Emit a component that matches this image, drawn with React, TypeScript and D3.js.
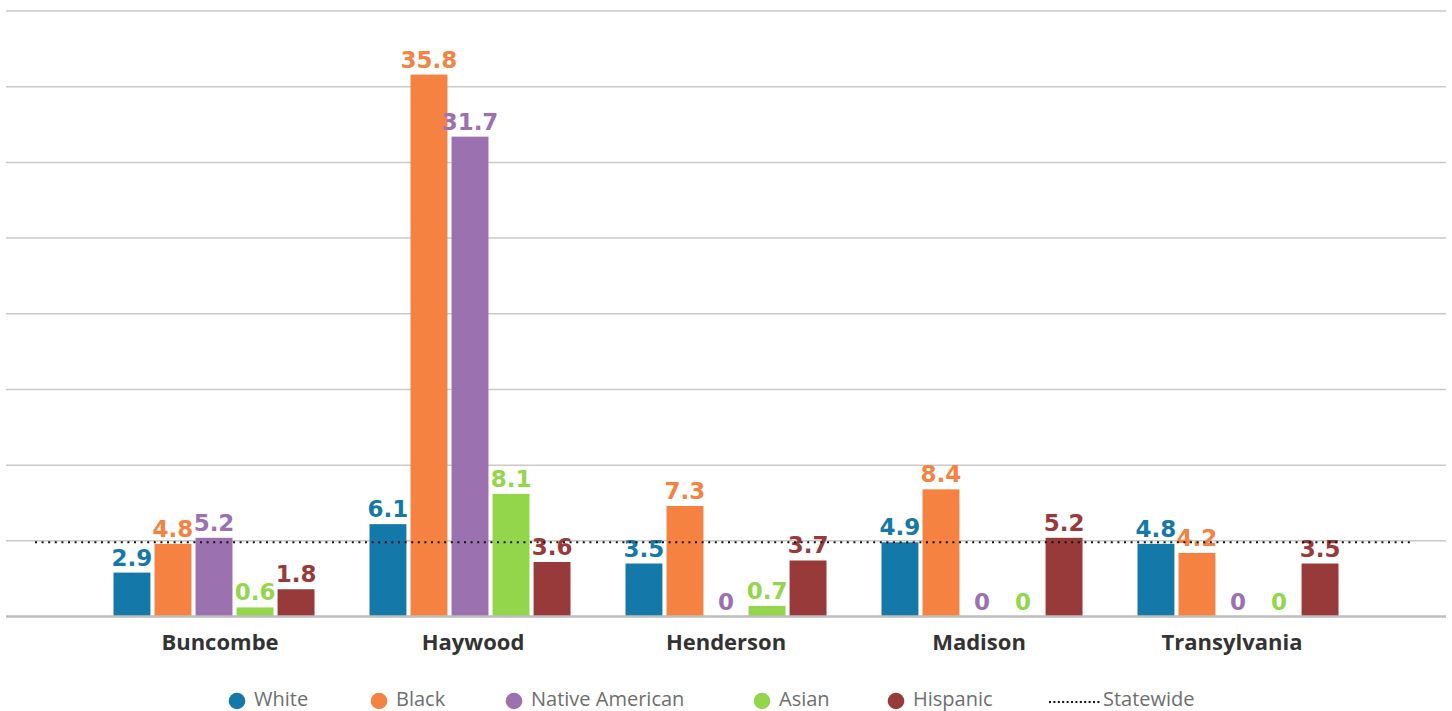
import React from "react";
import * as d3 from "d3";

const counties = ["Buncombe", "Haywood", "Henderson", "Madison", "Transylvania"];
const seriesNames = ["White", "Black", "Native American", "Asian", "Hispanic"];
const white = [2.9, 6.1, 3.5, 4.9, 4.8];
const black = [4.8, 35.8, 7.3, 8.4, 4.2];
const nativeAmerican = [5.2, 31.7, 0, 0, 0];
const asian = [0.6, 8.1, 0.7, 0, 0];
const hispanic = [1.8, 3.6, 3.7, 5.2, 3.5];
const statewide = 4.9;
const gridTicks = [0, 5, 10, 15, 20, 25, 30, 35, 40];

const COLORS = ["#1479a8", "#f58240", "#9c71b0", "#93d64c", "#983a3a"];
const W = 1452;
const H = 711;
const LEGEND_X = [237, 379, 514, 762, 896];

export default function App() {
  const series = [white, black, nativeAmerican, asian, hispanic];
  const x = d3.scaleBand<string>().domain(counties).range([6, 1446]).paddingInner(0).paddingOuter(0.3125);
  const inner = d3.scaleBand<string>().domain(seriesNames).range([27.5, x.bandwidth() - 27.5]).paddingInner(0.1).paddingOuter(0);
  const labelX = d3.scaleBand<string>().domain(counties).range([93.5, 1358.5]);
  const y = d3.scaleLinear().domain([0, 40]).range([616.5, 11]);
  const valueFont = "'DejaVu Sans', sans-serif";
  return (
    <svg width={W} height={H} style={{ position: "absolute", left: 0, top: 0, display: "block", background: "#fff" }}>
      {gridTicks.slice(1).map((t) => (
        <line key={t} x1={6} x2={1446} y1={y(t)} y2={y(t)} stroke="#c9c9c9" strokeWidth={1.5} />
      ))}
      {series.map((vals, si) =>
        counties.map((c, ci) => {
          const v = vals[ci];
          const bx = (x(c) ?? 0) + (inner(seriesNames[si]) ?? 0);
          return (
            <g key={`${si}-${ci}`}>
              {v > 0 && (
                <rect x={bx} y={y(v)} width={inner.bandwidth()} height={y(0) - y(v)} fill={COLORS[si]} />
              )}
              <text
                x={bx + inner.bandwidth() / 2}
                y={y(v) - 7}
                textAnchor="middle"
                fill={COLORS[si]}
                fontFamily={valueFont}
                fontWeight="bold"
                fontSize={23}
              >
                {String(v)}
              </text>
            </g>
          );
        })
      )}
      <line x1={6} x2={1446} y1={y(0)} y2={y(0)} stroke="#bdbdbd" strokeWidth={2.5} />
      <line x1={35} x2={1414} y1={y(statewide)} y2={y(statewide)} stroke="#111" strokeWidth={2} strokeDasharray="2,4.6" />
      {counties.map((c) => (
        <text
          key={c}
          x={(labelX(c) ?? 0) + labelX.bandwidth() / 2}
          y={650}
          textAnchor="middle"
          fill="#333"
          fontFamily="'Open Sans', sans-serif"
          fontWeight="bold"
          fontSize={22}
        >
          {c}
        </text>
      ))}
      {seriesNames.map((s, i) => (
        <g key={s}>
          <circle cx={LEGEND_X[i]} cy={701} r={8.3} fill={COLORS[i]} />
          <text x={LEGEND_X[i] + 17} y={706} fill="#6e6e6e" fontFamily="'Open Sans', sans-serif" fontSize={20}>
            {s}
          </text>
        </g>
      ))}
      <line x1={1049} x2={1100} y1={702} y2={702} stroke="#111" strokeWidth={2} strokeDasharray="2,2.4" />
      <text x={1103} y={706} fill="#6e6e6e" fontFamily="'Open Sans', sans-serif" fontSize={20}>
        Statewide
      </text>
    </svg>
  );
}
